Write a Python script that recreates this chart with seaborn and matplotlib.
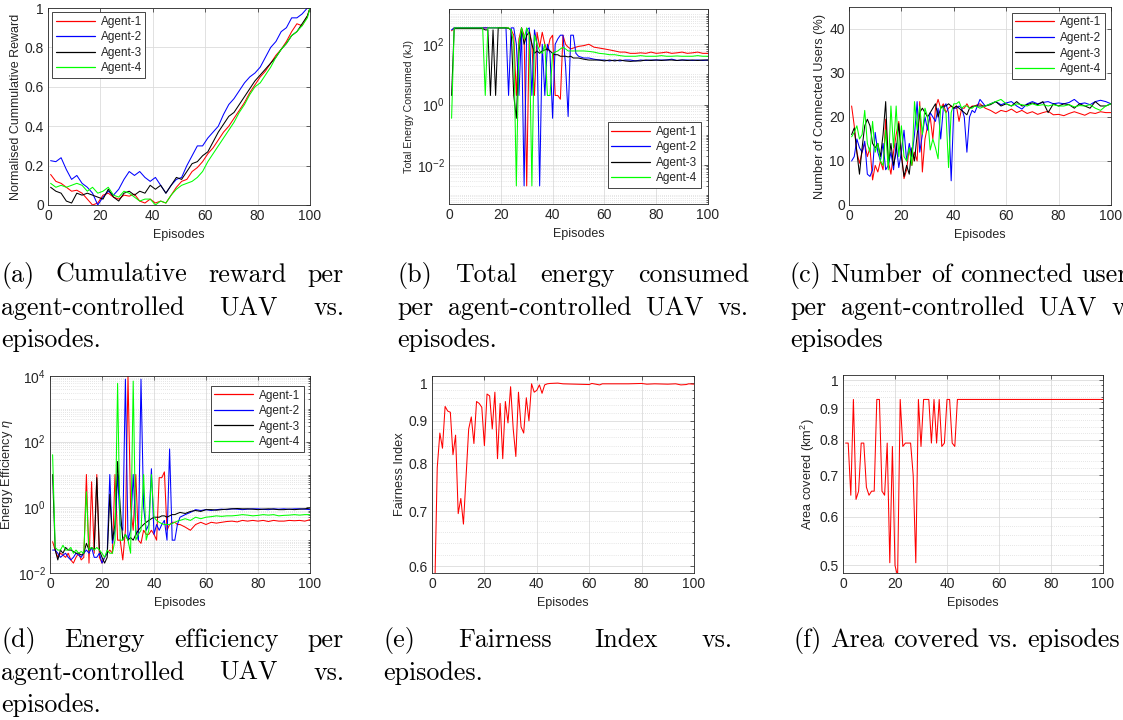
import numpy as np
import pandas as pd
import seaborn as sns
import matplotlib.pyplot as plt
from matplotlib.ticker import FixedLocator, NullFormatter, LogLocator
from matplotlib.transforms import IdentityTransform

agents = ['Agent-1', 'Agent-2', 'Agent-3', 'Agent-4']
colors = ['#ff0000', '#0000ff', '#000000', '#00ff00']

# (a) normalised cumulative reward
ep_a = list(range(1, 100, 2)) + [100]
rew1 = [0.155, 0.12, 0.11, 0.09, 0.07, 0.075, 0.06, 0.03, 0.0, 0.01, 0.05, 0.06, 0.04, 0.03, 0.05, 0.045,
        0.055, 0.02, 0.01, 0.03, 0.01, 0.02, 0.01, 0.05, 0.09, 0.12, 0.13, 0.17, 0.19, 0.22, 0.26, 0.29, 0.33,
        0.37, 0.4, 0.44, 0.48, 0.52, 0.57, 0.61, 0.65, 0.68, 0.72, 0.76, 0.79, 0.83, 0.88, 0.92, 0.91, 0.96, 1.0]
rew2 = [0.225, 0.22, 0.24, 0.18, 0.13, 0.15, 0.11, 0.09, 0.06, 0.0, 0.04, 0.07, 0.05, 0.08, 0.13, 0.17,
        0.15, 0.17, 0.14, 0.12, 0.14, 0.1, 0.06, 0.1, 0.13, 0.14, 0.2, 0.25, 0.3, 0.3, 0.34, 0.37, 0.4,
        0.46, 0.51, 0.54, 0.58, 0.62, 0.65, 0.67, 0.7, 0.75, 0.8, 0.83, 0.88, 0.9, 0.95, 0.95, 0.97, 1.0, 1.0]
rew3 = [0.09, 0.07, 0.06, 0.02, 0.01, 0.06, 0.05, 0.06, 0.05, 0.04, 0.03, 0.08, 0.04, 0.02, 0.06, 0.07,
        0.05, 0.07, 0.06, 0.1, 0.08, 0.1, 0.06, 0.1, 0.14, 0.13, 0.17, 0.21, 0.22, 0.25, 0.27, 0.32, 0.37,
        0.41, 0.45, 0.47, 0.51, 0.55, 0.59, 0.63, 0.66, 0.69, 0.72, 0.75, 0.79, 0.82, 0.86, 0.88, 0.92, 0.96, 1.0]
rew4 = [0.11, 0.09, 0.1, 0.09, 0.1, 0.11, 0.1, 0.07, 0.09, 0.06, 0.07, 0.09, 0.05, 0.04, 0.07, 0.06,
        0.04, 0.02, 0.03, 0.03, 0.0, 0.02, 0.01, 0.05, 0.08, 0.1, 0.11, 0.12, 0.14, 0.17, 0.22, 0.26, 0.3,
        0.34, 0.38, 0.42, 0.47, 0.51, 0.56, 0.6, 0.62, 0.66, 0.7, 0.75, 0.79, 0.82, 0.86, 0.88, 0.91, 0.95, 1.0]

# (b) total energy consumed (kJ)
ep_b = list(range(1, 51)) + list(range(52, 101, 2))
en1 = [280, 350, 350, 355, 350, 350, 350, 350, 350, 350, 350, 350, 350, 350, 350, 350, 350, 350, 350, 350,
       350, 350, 340, 300, 200, 2, 150, 350, 200, 0.002, 300, 100, 2, 250, 80, 250, 100, 60, 150, 200,
       2, 2, 1.5, 200, 100, 80, 70, 75, 80, 85,
       90, 100, 80, 75, 70, 65, 60, 55, 55, 50, 50, 52, 50, 55, 50, 52, 55, 50, 52, 55, 50, 52, 55, 50, 50]
en2 = [300, 350, 350, 350, 350, 350, 350, 350, 350, 350, 350, 350, 350, 350, 350, 350, 350, 350, 350, 350,
       350, 350, 2, 350, 350, 100, 2, 300, 0.002, 300, 350, 2, 300, 100, 0.002, 100, 2, 100, 50, 0.35,
       100, 150, 200, 200, 20, 0.4, 200, 200, 50, 40,
       35, 35, 32, 30, 30, 28, 30, 28, 30, 30, 28, 30, 29, 30, 30, 30, 30, 32, 29, 30, 30, 29, 30, 29, 30]
en3 = [2, 330, 330, 330, 330, 330, 330, 330, 330, 330, 330, 330, 330, 300, 300, 2, 300, 2, 350, 350,
       350, 350, 340, 300, 2, 0.35, 50, 350, 100, 200, 250, 100, 50, 60, 50, 60, 65, 70, 60, 50,
       45, 45, 40, 40, 40, 38, 40, 35, 35, 35,
       32, 30, 30, 30, 28, 30, 28, 30, 28, 27, 28, 28, 30, 29, 30, 29, 30, 30, 29, 30, 29, 30, 29, 30, 30]
en4 = [0.35, 350, 350, 350, 350, 350, 350, 350, 350, 350, 350, 350, 350, 2, 350, 350, 350, 350, 350, 350,
       350, 350, 350, 300, 100, 0.002, 100, 350, 150, 350, 200, 0.002, 200, 100, 60, 50, 100, 2, 2, 50,
       55, 60, 70, 80, 70, 60, 60, 60, 60, 60,
       60, 58, 55, 50, 48, 45, 45, 42, 40, 40, 40, 42, 40, 40, 40, 42, 40, 40, 41, 40, 40, 40, 42, 40, 40]

# (c) connected users (%)
ep_c = list(range(1, 51)) + list(range(52, 101, 2))
usr1 = [22.5, 18, 12, 9.5, 12, 14, 11, 13, 5.7, 9, 7.5, 10, 8, 19.5, 10, 7, 12, 16, 19, 12,
        6, 8, 13, 9, 12, 10, 23.5, 7.5, 15, 18, 20, 15, 22, 24, 22, 23, 21, 22, 22.5, 22,
        22.5, 19, 22, 22, 23, 22, 22.5, 22.5, 22.8, 23,
        22, 21.5, 20.8, 21.5, 21.2, 21.8, 21, 21.5, 20.8, 21.2, 20.6, 21, 21.3, 20.5, 20.6, 20.3, 20.8,
        21.2, 20.8, 20.4, 21, 20.8, 21.2, 21, 21]
usr2 = [10, 11, 15, 13, 12, 14.5, 7, 6.5, 8, 16.5, 12, 10, 14, 8, 9, 12, 8, 14, 8.5, 12,
        17, 10, 14, 11, 16, 23.5, 12, 16, 20, 17, 21, 20, 19, 22, 15, 22, 23, 21, 5.5, 22,
        22, 22.5, 22, 20, 12, 20, 21.5, 21, 22.5, 24,
        22.5, 23, 23.5, 22.8, 23.2, 23.5, 22.5, 21.8, 23, 23.5, 23, 23.3, 23.5, 23, 23.2, 23, 23.3,
        24, 23, 23.2, 22.8, 23.5, 23.8, 23.5, 23]
usr3 = [16, 17.5, 12, 7, 13, 18, 19.5, 18, 14, 13, 14, 11, 16, 23.5, 9, 14, 9, 12, 18.5, 11,
        6.5, 9, 7, 13, 10, 16, 21, 22, 21, 20, 21, 22, 23, 20, 22, 22.5, 22.5, 23, 22.5, 22,
        22.5, 22, 21.5, 21, 20.5, 22, 22.3, 22.5, 22.5, 22.5,
        22.5, 22.8, 23.5, 22.5, 23, 22.5, 23.5, 22.5, 22.8, 23.2, 22.8, 23.5, 21, 23, 22.5, 23, 22.8,
        22, 23, 22.5, 22, 23.5, 22.5, 22.5, 23]
usr4 = [15.5, 16.5, 18, 15, 16, 21.5, 14, 12, 19, 12, 14, 10, 9, 17, 8, 22.5, 13, 22.5, 11, 18,
        11, 10, 13, 9, 23.5, 17, 22.5, 16, 22, 20, 12.5, 15, 13, 10.5, 22.5, 22, 21, 8.5, 21, 23,
        23, 23.5, 22, 22.5, 22.5, 22, 22, 22.5, 22.3, 22,
        22.5, 23, 23.5, 24, 23, 22.5, 23, 22.8, 22.5, 23, 22.6, 22.8, 22.5, 22.8, 22.5, 22.5, 22.8,
        22.3, 22.6, 22.5, 22.8, 22, 21.5, 22.5, 23]

# (d) energy efficiency
ep_d = list(range(1, 51)) + list(range(52, 101, 2))
eff1 = [0.09, 0.05, 0.03, 0.04, 0.035, 0.03, 0.04, 0.025, 0.02, 0.03, 0.04, 0.025, 0.03, 10, 0.02, 6, 0.04,
        10, 0.03, 0.02, 0.03, 0.04, 0.05, 0.04, 10, 0.1, 0.1, 0.025, 0.2, 10000, 1, 0.2, 10, 0.1, 0.08,
        0.2, 0.15, 0.15, 0.2, 0.15, 0.1, 8, 8, 12, 0.2, 0.3, 0.35, 0.35, 0.3, 0.3,
        0.25, 0.2, 0.3, 0.35, 0.3, 0.35, 0.33, 0.35, 0.37, 0.38, 0.36, 0.4, 0.38, 0.4, 0.38, 0.4, 0.37,
        0.4, 0.38, 0.38, 0.4, 0.39, 0.4, 0.38, 0.42]
eff2 = [0.05, 0.05, 0.04, 0.03, 0.035, 0.04, 0.03, 0.025, 0.03, 0.04, 0.035, 0.03, 0.04, 0.05, 0.04, 0.06,
        0.03, 0.03, 0.04, 0.02, 0.03, 0.04, 10, 0.08, 0.2, 10, 0.3, 0.2, 8000, 0.1, 0.2, 10, 0.2, 0.1,
        8000, 1, 0.2, 0.3, 15, 0.15, 0.3, 0.2, 0.3, 0.4, 0.1, 60, 0.1, 0.1, 0.3, 0.5,
        0.6, 0.7, 0.85, 0.8, 0.85, 0.8, 0.85, 0.88, 0.85, 0.9, 0.88, 0.85, 0.88, 0.9, 0.9, 0.87, 0.85,
        0.9, 0.88, 0.9, 0.87, 0.9, 0.9, 0.88, 0.85]
eff3 = [10, 0.05, 0.025, 0.05, 0.04, 0.06, 0.05, 0.05, 0.045, 0.04, 0.04, 0.035, 0.04, 0.08, 0.05, 0.06,
        0.05, 8, 0.05, 0.03, 0.02, 0.03, 2.5, 0.1, 0.3, 25, 1, 0.1, 0.15, 0.1, 0.12, 0.1, 0.15, 0.2,
        0.25, 0.3, 0.35, 0.4, 0.45, 0.5, 0.5, 0.5, 0.55, 0.55, 0.5, 0.55, 0.6, 0.6, 0.65, 0.7,
        0.65, 0.75, 0.8, 0.75, 0.85, 0.85, 0.82, 0.85, 0.88, 0.9, 0.92, 0.9, 0.9, 0.88, 0.85, 0.88, 0.9,
        0.88, 0.85, 0.85, 0.88, 0.85, 0.88, 0.9, 0.95]
eff4 = [40, 0.06, 0.05, 0.05, 0.07, 0.05, 0.05, 0.06, 0.04, 0.05, 0.04, 0.045, 0.04, 3, 0.05, 0.06, 0.05,
        0.06, 0.05, 0.04, 0.03, 0.05, 0.04, 0.04, 0.1, 6000, 0.1, 0.1, 0.15, 0.1, 0.04, 7000, 0.1, 0.15,
        0.2, 10, 0.1, 0.2, 10, 0.5, 0.4, 0.35, 0.32, 0.3, 0.3, 0.3, 0.32, 0.35, 0.38, 0.4,
        0.45, 0.4, 0.5, 0.45, 0.5, 0.52, 0.55, 0.53, 0.55, 0.55, 0.57, 0.6, 0.58, 0.55, 0.57, 0.6, 0.58,
        0.6, 0.55, 0.57, 0.58, 0.6, 0.58, 0.6, 0.6]

# (e) fairness index
ep_e = list(range(1, 46)) + [48, 50, 55, 60, 61, 64, 65, 70, 75, 80, 82, 85, 90, 93, 95, 97, 98, 100]
fair = [0.55, 0.79, 0.87, 0.834, 0.937, 0.925, 0.922, 0.819, 0.865, 0.695, 0.725, 0.675, 0.77, 0.88, 0.91,
        0.845, 0.95, 0.945, 0.935, 0.84, 0.97, 0.965, 0.88, 0.975, 0.81, 0.945, 0.81, 0.95, 0.895, 0.99,
        0.88, 0.815, 0.975, 0.885, 0.87, 0.96, 0.9, 0.998, 0.975, 0.98, 0.995, 0.972, 0.995, 0.998, 0.999,
        1.0, 0.998, 0.997, 0.996, 0.999, 0.995, 0.998, 0.998, 0.998, 0.999, 0.997, 0.998, 0.997, 0.998,
        0.995, 0.996, 0.998, 0.997]

# (f) area covered (km^2)
ep_f = list(range(1, 45)) + [100]
area = [0.79, 0.79, 0.65, 0.93, 0.64, 0.66, 0.79, 0.79, 0.67, 0.65, 0.66, 0.66, 0.93, 0.93, 0.66, 0.65,
        0.79, 0.505, 0.78, 0.5, 0.48, 0.93, 0.78, 0.79, 0.79, 0.79, 0.7, 0.505, 0.93, 0.78, 0.93, 0.93,
        0.93, 0.79, 0.93, 0.79, 0.93, 0.78, 0.79, 0.93, 0.93, 0.79, 0.78, 0.93, 0.93]

sns.set_theme(style='whitegrid')
plt.rcParams['font.family'] = ['Liberation Sans', 'DejaVu Sans']
plt.rcParams['mathtext.fontset'] = 'custom'
plt.rcParams['mathtext.rm'] = 'Liberation Sans'
plt.rcParams['mathtext.it'] = 'Liberation Sans:italic'

W, H = 1123, 720
fig = plt.figure(figsize=(W / 100, H / 100), dpi=100)
fig.patch.set_facecolor('white')
INK = '#262626'


def axes_px(x0, y0, x1, y1):
    return fig.add_axes([x0 / W, 1 - y1 / H, (x1 - x0) / W, (y1 - y0) / H])


def draw(ax, ep, series):
    df = pd.DataFrame({
        'Episode': np.concatenate([ep] * len(series)),
        'value': np.concatenate(series),
        'agent': np.repeat(agents[:len(series)], len(ep)),
    })
    sns.lineplot(data=df, x='Episode', y='value', hue='agent', palette=colors[:len(series)],
                 estimator=None, sort=False, lw=0.75, ax=ax, legend=len(series) > 1)


def style(ax, ylabel, ysize):
    ax.set_facecolor('white')
    ax.set_xlim(0, 100)
    ax.set_xticks(range(0, 101, 20))
    ax.set_xlabel('Episodes', fontsize=9, color=INK, labelpad=4.5)
    ax.set_ylabel(ylabel, fontsize=ysize, color=INK, labelpad=2)
    ax.tick_params(which='both', direction='in', top=True, right=True, labelsize=10,
                   colors=INK, length=3, width=0.5, pad=3)
    ax.tick_params(which='minor', length=1.5)
    for s in ax.spines.values():
        s.set_visible(True)
        s.set_color(INK)
        s.set_linewidth(0.6)
    ax.grid(True, which='major', color='#dcdcdc', lw=0.6, ls='-')


def minor_grid(ax):
    ax.yaxis.set_minor_formatter(NullFormatter())
    ax.grid(True, which='minor', axis='y', color='#cfcfcf', lw=0.5, ls=(0, (1, 2)))


def legend(ax, **kw):
    leg = ax.legend(fontsize=8.5, frameon=True, fancybox=False, edgecolor=INK, framealpha=1,
                    handlelength=3.3, borderpad=0.3, labelspacing=0.3, handletextpad=0.5, **kw)
    leg.get_frame().set_linewidth(0.6)
    for line in leg.get_lines():
        line.set_linewidth(0.9)


# (a)
ax = axes_px(48, 8, 310, 205)
draw(ax, ep_a, [rew1, rew2, rew3, rew4])
style(ax, 'Normalised Cummulative Reward', 9)
ax.set_ylim(0, 1)
ax.set_yticks([0, 0.2, 0.4, 0.6, 0.8, 1])
ax.set_yticklabels(['0', '0.2', '0.4', '0.6', '0.8', '1'])
legend(ax, loc='upper left', borderaxespad=0.35)

# (b)
ax = axes_px(449, 9, 708, 204)
draw(ax, ep_b, [en1, en2, en3, en4])
style(ax, 'Total Energy Consumed (kJ)', 7.6)
ax.set_yscale('log')
ax.set_ylim(10 ** -3.3, 10 ** 3.17)
ax.yaxis.set_major_locator(FixedLocator([1e-2, 1, 1e2]))
ax.yaxis.set_minor_locator(LogLocator(base=10, subs=np.arange(1, 10), numticks=100))
minor_grid(ax)
legend(ax, loc='lower right', bbox_to_anchor=(1 - 7 / 259, 16 / 195), borderaxespad=0)

# (c)
ax = axes_px(849, 7, 1111, 205)
draw(ax, ep_c, [usr1, usr2, usr3, usr4])
style(ax, 'Number of Connected Users (%)', 9.2)
ax.set_ylim(0, 45)
ax.set_yticks([0, 10, 20, 30, 40])
legend(ax, loc='upper right', borderaxespad=0.5)

# (d)
ax = axes_px(50, 376, 310, 573)
draw(ax, ep_d, [eff1, eff2, eff3, eff4])
style(ax, r'Energy Efficiency $\eta$', 9.2)
ax.set_yscale('log')
ax.set_ylim(1e-2, 1e4)
ax.yaxis.set_major_locator(FixedLocator([1e-2, 1, 1e2, 1e4]))
ax.yaxis.set_minor_locator(LogLocator(base=10, subs=np.arange(1, 10), numticks=100))
minor_grid(ax)
legend(ax, loc='upper right', bbox_to_anchor=(1 - 6 / 260, 1 - 10 / 197), borderaxespad=0)

# (e)
ax = axes_px(432, 376, 694, 573)
draw(ax, ep_e, [fair])
style(ax, 'Fairness Index', 9.2)
ax.set_yscale('log')
ax.set_ylim(0.589, 1.02)
ax.yaxis.set_major_locator(FixedLocator([0.6, 0.7, 0.8, 0.9, 1]))
ax.yaxis.set_major_formatter(plt.FixedFormatter(['0.6', '0.7', '0.8', '0.9', '1']))
ax.yaxis.set_minor_locator(FixedLocator(np.arange(0.58, 1.021, 0.02)))
minor_grid(ax)

# (f)
ax = axes_px(843, 375, 1103, 573)
draw(ax, ep_f, [area])
style(ax, r'Area covered (km$^2$)', 9.2)
ax.set_yscale('log')
ax.set_ylim(0.486, 1.019)
ax.yaxis.set_major_locator(FixedLocator([0.5, 0.6, 0.7, 0.8, 0.9, 1]))
ax.yaxis.set_major_formatter(plt.FixedFormatter(['0.5', '0.6', '0.7', '0.8', '0.9', '1']))
ax.yaxis.set_minor_locator(FixedLocator(np.arange(0.48, 1.021, 0.02)))
minor_grid(ax)

# sub-captions, justified like the LaTeX source
CAP = 18.7
renderer = fig.canvas.get_renderer()


def caption_line(text, x0, x1, base, justify=True):
    words = text.split()
    arts = [fig.text(0, 0, w, transform=IdentityTransform(), fontsize=CAP, family='cmr10',
                     color='black', va='baseline', ha='left') for w in words]
    widths = [a.get_window_extent(renderer).width for a in arts]
    if justify and len(words) > 1:
        gap = (x1 - x0 - sum(widths)) / (len(words) - 1)
    else:
        gap = CAP * 100 / 72 * 0.33
    x = x0
    for a, w in zip(arts, widths):
        a.set_position((x, H - base))
        x += w + gap


caption_line('(a) Cumulative reward per', 1, 344, 282)
caption_line('agent-controlled UAV vs.', 1, 344, 315)
caption_line('episodes.', 1, 344, 347, justify=False)
caption_line('(b) Total energy consumed', 397, 749, 282)
caption_line('per agent-controlled UAV vs.', 397, 749, 315)
caption_line('episodes.', 397, 749, 347, justify=False)
caption_line('(c) Number of connected users', 790, 1142, 282, justify=False)
caption_line('per agent-controlled UAV vs.', 790, 1142, 315)
caption_line('episodes', 790, 1142, 347, justify=False)
caption_line('(d) Energy efficiency per', 1, 344, 647)
caption_line('agent-controlled UAV vs.', 1, 344, 680)
caption_line('episodes.', 1, 344, 712, justify=False)
caption_line('(e) Fairness Index vs.', 383, 732, 647)
caption_line('episodes.', 383, 732, 680, justify=False)
caption_line('(f) Area covered vs. episodes', 793, 1145, 647, justify=False)

fig.savefig('out.png', dpi=100, facecolor='white')
